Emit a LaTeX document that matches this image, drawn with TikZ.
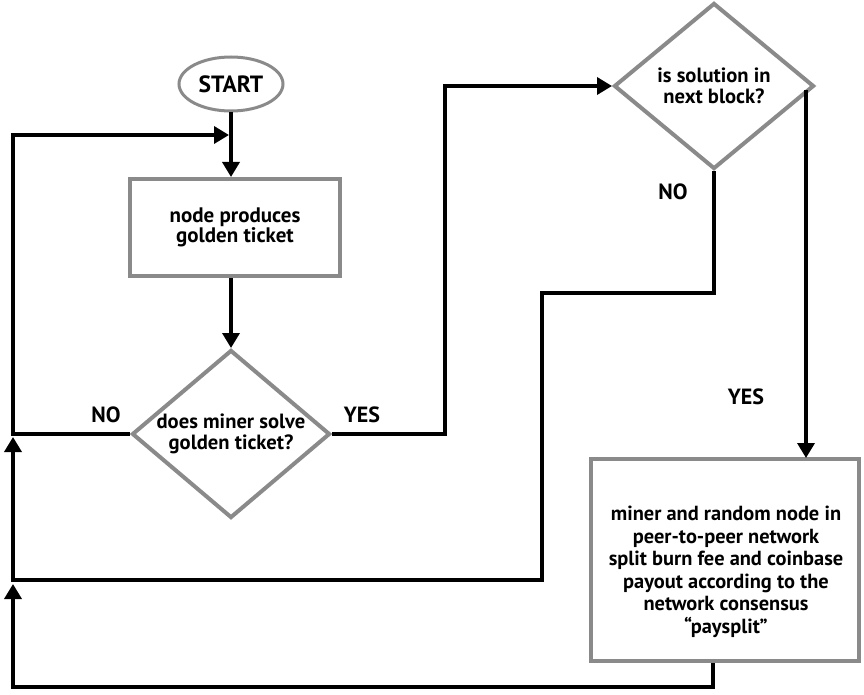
\documentclass[tikz,border=0pt]{standalone}
\usepackage{fontspec}
\setmainfont{PT Sans}
\usepackage{xcolor}
\definecolor{Frame Grey}{HTML}{8A8A8A}
\colorlet{cGrey}{Frame Grey}
\usetikzlibrary{positioning, arrows.meta, shapes.geometric}
\tikzset{
	node distance = 72pt,
	line width = 3.5pt,
	>={Triangle[length=15pt, width=17pt]},
	font = \bfseries\fontsize{21}{20.5}\selectfont,
	terminal/.style={
		draw=cGrey,
		ellipse,
		line width=3pt,
		minimum width=104pt,
		minimum height=54pt,
		inner sep=0pt,
		font=\bfseries\fontsize{23.5}{24}\selectfont
	},
	process/.style={
		draw=cGrey,
		rectangle,
		line width=4pt,
		align=center,
		inner sep=0pt
	},
	decision/.style={
		draw=cGrey,
		diamond,
		line width=4pt,
		align=center,
		inner sep=-8pt,
		font=\bfseries\fontsize{20.6}{21}\selectfont
	},
	answer/.style={
		font=\bfseries\fontsize{22}{22}\selectfont
	},
	flow/.style={
		->,
		line width=3.5pt
	}
}

\begin{document}
\begin{tikzpicture}[x=1pt, y=-1pt]
\useasboundingbox (0,0) rectangle (864,695);

\node[terminal] (start) at (231,84) {START};
\node[process, minimum width=210pt, minimum height=97pt] (ticket) at (235,227.5) {node produces\\golden ticket};
\node[decision, minimum width=198pt, minimum height=168pt] (solve) at (231,434) {does miner solve\\golden ticket?};
\node[decision, minimum width=200pt, minimum height=166pt] (block) at (714,86) {is solution in\\next block?};
\node[process, minimum width=268pt, minimum height=202pt] (paysplit) at (725,560) {};
\node[align=center, font=\bfseries\fontsize{20.4}{22.5}\selectfont] (paysplit text) at (726,572) {miner and random node in\\peer-to-peer network\\split burn fee and coinbase\\payout according to the\\network consensus\\``paysplit''};

% ---
% Answers
% ---
\node[answer] (no1) at (106,415) {NO};
\node[answer] (yes1) at (362,415) {YES};
\node[answer] (no2) at (673,192) {NO};
\node[answer] (yes2) at (746,397) {YES};

% ---
% Main flow
% ---
\coordinate (loop) at (229,135);
\draw[flow] (start) to (start |- ticket.north);
\draw[flow] (start |- ticket.south) to (solve.north);
\draw[flow] (solve.west) -| (13,135) to (loop);
\draw[flow] (solve.east) -| (445,86) to (block.west);
\draw[flow] (806,90) to (806,458);

% ---
% Returns
% ---
\draw[flow] (block.south) |- (542,293) |- (13,580) to (13,437);
\draw[flow] (paysplit.south -| 713,0) |- (13,687) to (13,584);
\end{tikzpicture}
\end{document}
